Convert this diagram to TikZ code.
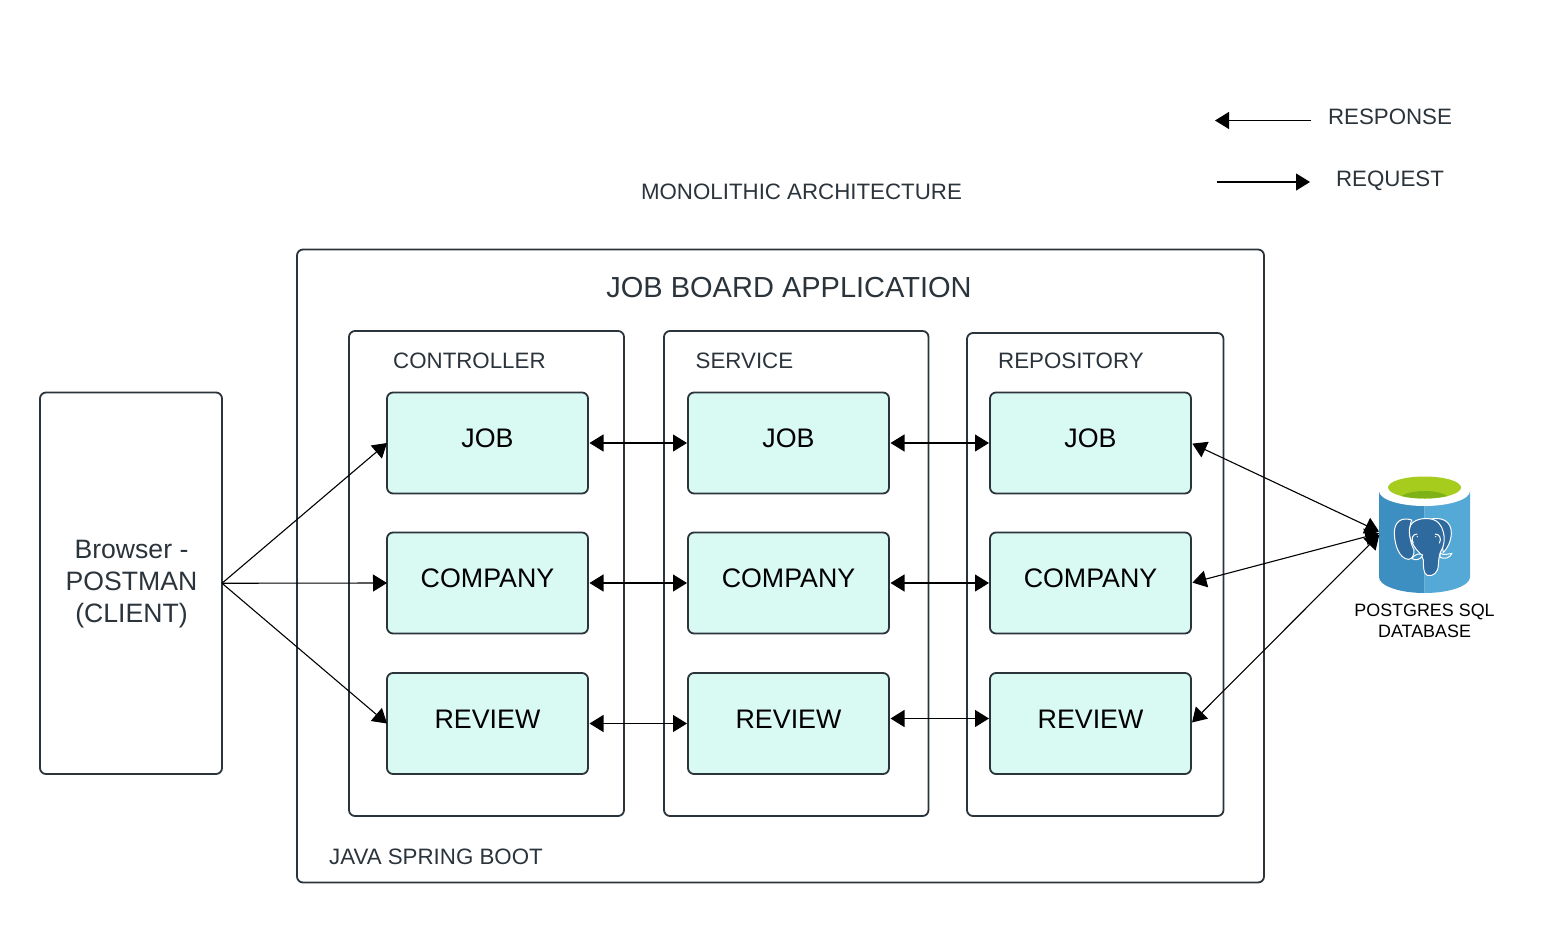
\documentclass[tikz,border=0pt]{standalone}
\usepackage{fontspec}
\setmainfont{Liberation Sans}
\usetikzlibrary{arrows.meta,positioning}
\definecolor{edgec}{HTML}{2B333B}
\definecolor{txtc}{HTML}{2B333B}
\definecolor{mint}{HTML}{D9F9F3}
\definecolor{dbdark}{HTML}{3C8FC0}
\definecolor{dblight}{HTML}{55A9D6}
\definecolor{elebody}{HTML}{2F6A9E}
\definecolor{green1}{HTML}{A6CC1E}
\definecolor{green2}{HTML}{7DB317}
\tikzset{
  x=1pt,y=-1pt,
  framebox/.style={draw=edgec,line width=1.8pt,rounded corners=6pt,anchor=north west,inner sep=0pt,outer sep=0pt},
  itembox/.style={framebox,fill=mint,minimum width=201pt,minimum height=101pt},
  itemtext/.style={font=\fontsize{26.8}{30}\selectfont,text=black,anchor=center,inner sep=0pt},
  captext/.style={font=\fontsize{22.3}{26}\selectfont,text=txtc,inner sep=0pt},
  botharrow/.style={draw=black,line width=1.1pt,{Triangle[length=14pt,width=17pt]}-{Triangle[length=14pt,width=17pt]},shorten <=1.5pt,shorten >=1pt},
  onearrow/.style={draw=black,line width=1.1pt,-{Triangle[length=14pt,width=17pt]}},
}
\newcommand{\cellbox}[4]{%
  \node[itembox] (#1) at (#2,#3) {};
  \node[itemtext] (#1t) at (#2+100.5,#3+46) {#4};
}
\begin{document}
\begin{tikzpicture}
\useasboundingbox (0,0) rectangle (1541,928);
\fill[white] (0,0) rectangle (1541,928);

% frames
\node[framebox,minimum width=967pt,minimum height=633pt] (app) at (297,249.5) {};
\node[framebox,minimum width=182pt,minimum height=381.5pt] (client) at (40,392.5) {};
\node[framebox,minimum width=275pt,minimum height=485pt] (ctrl) at (349,331) {};
\node[framebox,minimum width=264.5pt,minimum height=485pt] (svc) at (664,331) {};
\node[framebox,minimum width=256.5pt,minimum height=483pt] (repo) at (967,333) {};

% items
\cellbox{cj}{387}{392.5}{JOB}
\cellbox{cc}{387}{532.5}{COMPANY}
\cellbox{cr}{387}{673}{REVIEW}
\cellbox{sj}{688}{392.5}{JOB}
\cellbox{sc}{688}{532.5}{COMPANY}
\cellbox{sr}{688}{673}{REVIEW}
\cellbox{rj}{990}{392.5}{JOB}
\cellbox{rc}{990}{532.5}{COMPANY}
\cellbox{rr}{990}{673}{REVIEW}

% texts
\node[inner sep=0pt,font=\fontsize{29}{34}\selectfont,text=txtc] (apptitle) at (789,288) {JOB BOARD APPLICATION};
\node[captext,anchor=west] (ctitle) at (393,360.5) {CONTROLLER};
\node[captext,anchor=west] (stitle) at (695.5,360.5) {SERVICE};
\node[captext,anchor=west] (rtitle) at (998,360.5) {REPOSITORY};
\node[captext,anchor=west] (boot) at (329,856.5) {JAVA SPRING BOOT};
\node[captext] (mono) at (801.5,192) {MONOLITHIC ARCHITECTURE};
\node[captext] (resp) at (1390,117) {RESPONSE};
\node[captext] (reqt) at (1390,181) {REQUEST};
\node[inner sep=0pt,align=center,font=\fontsize{26.6}{32}\selectfont,text=txtc] (clienttext) at (131.5,584) {Browser -\\POSTMAN\\(CLIENT)};
\node[inner sep=0pt,align=center,font=\fontsize{17.9}{21.5}\selectfont,text=black] (dbtext) at (1424.5,621) {POSTGRES SQL\\DATABASE};

% database
\fill[dbdark] (1379,491) -- (1379,577) .. controls (1379,586) and (1400,593) .. (1424.5,593) -- (1424.5,491) -- cycle;
\fill[dblight] (1424.5,491) -- (1424.5,593) .. controls (1449,593) and (1470,586) .. (1470,577) -- (1470,491) -- cycle;
\fill[white] (1424.5,491) ellipse [x radius=45.5,y radius=15];
\fill[green1] (1424.5,487.5) ellipse [x radius=36.5,y radius=11];
\begin{scope}
\clip (1424.5,487.5) ellipse [x radius=36.5,y radius=11];
\fill[green2] (1424.5,501) ellipse [x radius=26.5,y radius=10];
\end{scope}
% elephant, in the coordinates of a 3x crop whose corner is (1340,460)
\begin{scope}[shift={(1340,460)},x=0.3333pt,y=-0.3333pt,draw=white,line width=1pt,fill=elebody,line join=round]
\filldraw (215,180) .. controls (185,170) and (162,185) .. (163,220)
  .. controls (164,260) and (180,296) .. (205,298)
  .. controls (218,298) and (222,285) .. (222,270)
  .. controls (208,245) and (205,205) .. (215,180) -- cycle;
\filldraw (270,178) .. controls (300,170) and (335,180) .. (334,220)
  .. controls (333,245) and (322,265) .. (310,278)
  .. controls (305,240) and (295,200) .. (270,178) -- cycle;
\filldraw (212,195) .. controls (225,172) and (280,168) .. (297,190)
  .. controls (315,212) and (316,245) .. (307,265)
  .. controls (298,280) and (296,295) .. (295,315)
  .. controls (294,340) and (278,350) .. (262,346)
  .. controls (250,342) and (250,320) .. (250,300)
  .. controls (246,280) and (228,272) .. (220,255)
  .. controls (208,235) and (204,210) .. (212,195) -- cycle;
\filldraw[fill=dbdark] (215,295) .. controls (228,280) and (240,280) .. (248,285) .. controls (244,298) and (225,304) .. (215,295) -- cycle;
\filldraw[fill=dblight] (300,280) .. controls (312,286) and (325,282) .. (336,280) .. controls (330,295) and (312,298) .. (300,292) -- cycle;
\draw (232,222) .. controls (218,222) and (212,235) .. (220,250);
\draw (285,222) .. controls (298,222) and (306,235) .. (298,250);
\fill[white] (232,230) circle (2.2);
\fill[white] (287,230) circle (2.2);
\end{scope}
\coordinate (dba) at (1380,532);
\coordinate (dbb) at (1380,533);
\coordinate (dbc) at (1380,534);

% connectors
\draw[onearrow] (client.east) -- (cj.west);
\draw[onearrow] (client.east) -- (cc.west);
\draw[onearrow] (client.east) -- (cr.west);
\draw[botharrow] (cj.east) -- (sj.west);
\draw[botharrow] (cc.east) -- (sc.west);
\draw[botharrow] (cr.east) -- (sr.west);
\draw[botharrow] (sj.east) -- (rj.west);
\draw[botharrow] (sc.east) -- (rc.west);
\draw[botharrow] ([yshift=5pt]sr.east) -- ([yshift=5pt]rr.west);
\draw[botharrow] (rj.east) -- (dba);
\draw[botharrow] (rc.east) -- (dbb);
\draw[botharrow] (rr.east) -- (dbc);

% legend
\coordinate (l1a) at (1311,120.5);
\coordinate (l1b) at (1215,120.5);
\coordinate (l2a) at (1217,182);
\coordinate (l2b) at (1310,182);
\draw[onearrow] (l1a) -- (l1b);
\draw[onearrow] (l2a) -- (l2b);
\end{tikzpicture}
\end{document}
